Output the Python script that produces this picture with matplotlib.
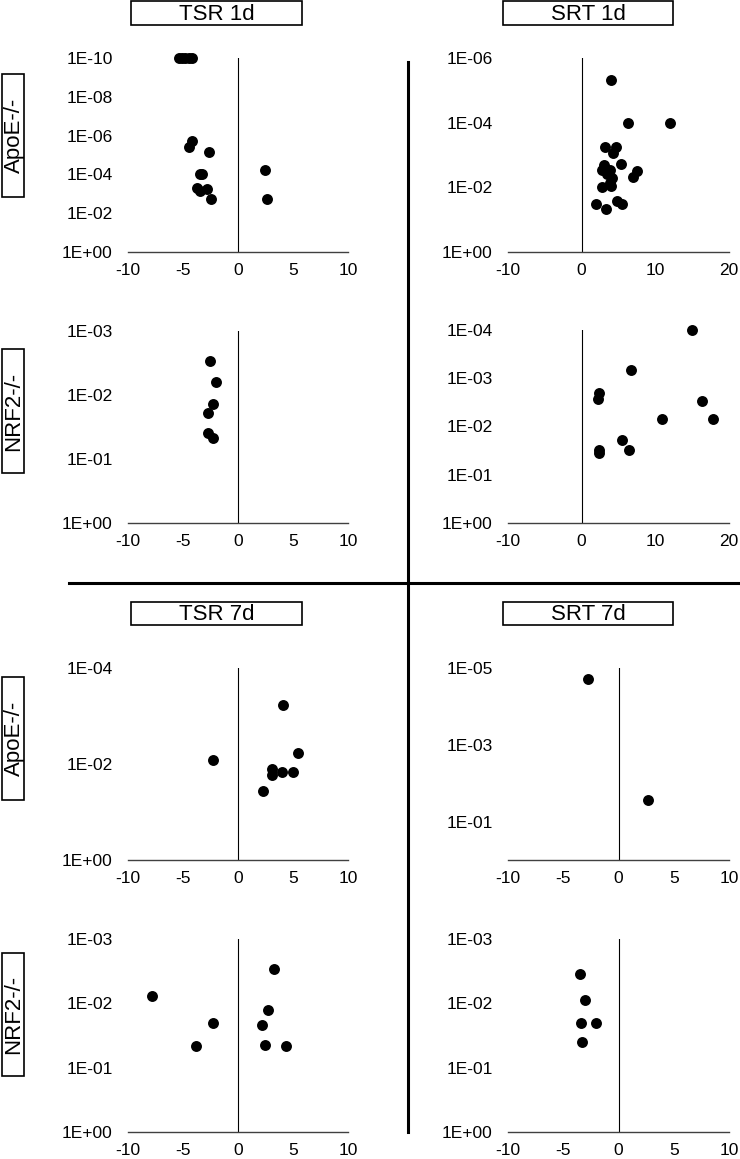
import numpy as np
import matplotlib
matplotlib.use("Agg")
import matplotlib.pyplot as plt
from matplotlib.patches import Rectangle
from matplotlib.lines import Line2D
from matplotlib.ticker import FixedLocator, FuncFormatter, NullLocator

plt.rcParams['font.family'] = ['Liberation Sans', 'DejaVu Sans']
plt.rcParams['axes.unicode_minus'] = False

# ---------------- data (log2 fold change, p-value) ----------------
tsr1_apoe_fc = [-5.4, -5.1, -4.8, -4.5, -4.2, -4.2, -4.45, -2.6, -3.44, -3.23,
                -3.74, -3.44, -2.86, -2.41, 2.42, 2.6]
tsr1_apoe_p = [1e-10, 1e-10, 1e-10, 1e-10, 1e-10, 1.9e-6, 3.7e-6, 7.2e-6, 9.5e-5, 9.5e-5,
               4.9e-4, 7.2e-4, 5.8e-4, 1.95e-3, 6.0e-5, 1.95e-3]

srt1_apoe_fc = [4.0, 6.25, 12.0, 3.14, 4.64, 4.19, 3.05, 5.28, 2.7, 3.82, 7.45,
                6.99, 4.05, 3.82, 2.7, 3.92, 1.92, 3.28, 4.82, 5.5, 3.5]
srt1_apoe_p = [4.9e-6, 1e-4, 1e-4, 5.8e-4, 5.8e-4, 8.9e-4, 2.0e-3, 1.95e-3, 2.9e-3, 2.9e-3, 3.1e-3,
               4.7e-3, 5.2e-3, 7.6e-3, 1.0e-2, 9.1e-3, 3.2e-2, 4.8e-2, 2.6e-2, 3.3e-2, 4.0e-3]

tsr1_nrf2_fc = [-2.54, -1.96, -2.24, -2.72, -2.72, -2.24]
tsr1_nrf2_p = [2.9e-3, 6.3e-3, 1.4e-2, 1.9e-2, 3.9e-2, 4.7e-2]

srt1_nrf2_fc = [15.0, 6.7, 2.31, 2.22, 16.36, 10.92, 17.8, 5.53, 6.43, 2.31, 2.4]
srt1_nrf2_p = [1e-4, 6.9e-4, 2.0e-3, 2.7e-3, 3.0e-3, 6.9e-3, 6.9e-3, 1.9e-2, 3.0e-2, 3.1e-2, 3.6e-2]

tsr7_apoe_fc = [4.11, -2.27, 5.44, 3.08, 3.11, 4.02, 4.98, 2.24]
tsr7_apoe_p = [5.8e-4, 8.1e-3, 5.9e-3, 1.26e-2, 1.66e-2, 1.5e-2, 1.5e-2, 3.7e-2]

srt7_apoe_fc = [-2.78, 2.63]
srt7_apoe_p = [1.9e-5, 2.8e-2]

tsr7_nrf2_fc = [3.26, -7.82, 2.75, -2.24, 2.18, -3.81, 2.42, 4.35]
tsr7_nrf2_p = [2.95e-3, 7.8e-3, 1.26e-2, 2.0e-2, 2.2e-2, 4.6e-2, 4.5e-2, 4.6e-2]

srt7_nrf2_fc = [-3.47, -3.05, -3.38, -2.02, -3.26]
srt7_nrf2_p = [3.5e-3, 8.9e-3, 2.0e-2, 2.0e-2, 4.0e-2]

column_titles = ["TSR 1d", "SRT 1d", "TSR 7d", "SRT 7d"]
row_titles = ["ApoE-/-", "NRF2-/-", "ApoE-/-", "NRF2-/-"]

# ---------------- layout ----------------
W, H = 740, 1159
fig = plt.figure(figsize=(W / 100, H / 100), dpi=100)


def fx(x):
    return x / W


def fy(y):
    return 1 - y / H


def ax_at(l, t, r, b):
    return fig.add_axes([l / W, 1 - b / H, (r - l) / W, (b - t) / H])


def fmt(v, pos):
    e = int(round(np.log10(v)))
    return f"1E{e:+03d}"


panels = [
    ((128, 58, 348, 252), tsr1_apoe_fc, tsr1_apoe_p, (-10, 10), [-10, -5, 0, 5, 10], 1e-10, [-10, -8, -6, -4, -2, 0]),
    ((508, 58, 729, 252), srt1_apoe_fc, srt1_apoe_p, (-10, 20), [-10, 0, 10, 20], 1e-6, [-6, -4, -2, 0]),
    ((128, 331, 348, 523), tsr1_nrf2_fc, tsr1_nrf2_p, (-10, 10), [-10, -5, 0, 5, 10], 1e-3, [-3, -2, -1, 0]),
    ((508, 330, 729, 523), srt1_nrf2_fc, srt1_nrf2_p, (-10, 20), [-10, 0, 10, 20], 1e-4, [-4, -3, -2, -1, 0]),
    ((128, 668, 348, 860), tsr7_apoe_fc, tsr7_apoe_p, (-10, 10), [-10, -5, 0, 5, 10], 1e-4, [-4, -2, 0]),
    ((508, 668, 729, 860), srt7_apoe_fc, srt7_apoe_p, (-10, 10), [-10, -5, 0, 5, 10], 1e-5, [-5, -3, -1]),
    ((128, 939, 348, 1132), tsr7_nrf2_fc, tsr7_nrf2_p, (-10, 10), [-10, -5, 0, 5, 10], 1e-3, [-3, -2, -1, 0]),
    ((508, 939, 729, 1132), srt7_nrf2_fc, srt7_nrf2_p, (-10, 10), [-10, -5, 0, 5, 10], 1e-3, [-3, -2, -1, 0]),
]

for box, xs, ps, xlim, xt, ptop, yexp in panels:
    ax = ax_at(*box)
    ax.set_yscale('log')
    ax.set_xlim(*xlim)
    ax.set_ylim(1, ptop)
    for s in ['top', 'right', 'left']:
        ax.spines[s].set_visible(False)
    ax.spines['bottom'].set_color('#404040')
    ax.spines['bottom'].set_linewidth(1.0)
    ax.axvline(0, color='black', lw=0.8, zorder=1)
    ax.scatter(xs, ps, s=62, color='black', zorder=3, clip_on=False, linewidths=0)
    ax.xaxis.set_major_locator(FixedLocator(xt))
    ax.xaxis.set_minor_locator(NullLocator())
    ax.yaxis.set_major_locator(FixedLocator([10.0 ** e for e in yexp]))
    ax.yaxis.set_minor_locator(NullLocator())
    ax.yaxis.set_major_formatter(FuncFormatter(fmt))
    ax.tick_params(axis='both', which='both', length=0, labelsize=12.5, colors='black')
    ax.tick_params(axis='x', pad=8)
    ax.tick_params(axis='y', pad=11)
    ax.patch.set_visible(False)

# column title boxes
title_boxes = [(131, 1, 302, 25), (503, 1, 673, 25), (131, 602, 302, 625), (503, 602, 673, 625)]
for (l, t, r, b), txt in zip(title_boxes, column_titles):
    fig.patches.append(Rectangle((fx(l), fy(b)), fx(r) - fx(l), fy(t) - fy(b),
                                 transform=fig.transFigure, fill=False, ec='black', lw=1.2))
    fig.text(fx((l + r) / 2), fy((t + b) / 2 + 1), txt, ha='center', va='center', fontsize=16)

# row title boxes
row_boxes = [(2, 74, 24, 197), (2, 349, 24, 473), (2, 677, 24, 800), (2, 953, 24, 1076)]
for (l, t, r, b), txt in zip(row_boxes, row_titles):
    fig.patches.append(Rectangle((fx(l), fy(b)), fx(r) - fx(l), fy(t) - fy(b),
                                 transform=fig.transFigure, fill=False, ec='black', lw=1.2))
    fig.text(fx((l + r) / 2 + 1), fy((t + b) / 2), txt, ha='center', va='center',
             fontsize=16, rotation=90)

# big dividing cross
fig.lines.append(Line2D([fx(407.7), fx(407.7)], [fy(62), fy(1132)], transform=fig.transFigure,
                        color='black', lw=2.2))
fig.lines.append(Line2D([fx(69), fx(740)], [fy(582.7), fy(582.7)], transform=fig.transFigure,
                        color='black', lw=2.2))

fig.savefig("out.png", dpi=100)
